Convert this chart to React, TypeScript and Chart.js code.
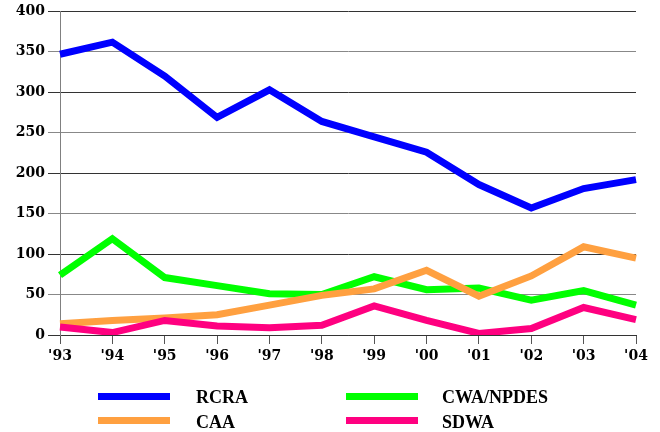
import React, { useEffect, useRef } from "react";
import { Chart, registerables } from "chart.js";

Chart.register(...registerables);

const years = ["'93", "'94", "'95", "'96", "'97", "'98", "'99", "'00", "'01", "'02", "'03", "'04"];
const rcra = [347, 362, 320, 269, 303, 264, 245, 226, 186, 157, 181, 192];
const caa = [14, 18, 21, 25, 37, 49, 57, 80, 48, 73, 109, 95];
const cwa = [74, 119, 71, 61, 51, 50, 72, 56, 58, 43, 55, 37];
const sdwa = [10, 3, 18, 11, 9, 12, 36, 18, 2, 8, 34, 19];

const seriesNames = ["RCRA", "CAA", "CWA/NPDES", "SDWA"];
const seriesColors = ["#0000ff", "#ffa040", "#00ff00", "#ff0080"];
const yTicks = [0, 50, 100, 150, 200, 250, 300, 350, 400];

const tickFont = { family: "'DejaVu Serif', serif", size: 14, weight: "bold" as const };

export default function App() {
  const ref = useRef<HTMLCanvasElement | null>(null);

  useEffect(() => {
    document.body.style.margin = "0";
    const ctx = ref.current!;
    const dataArrays = [rcra, caa, cwa, sdwa];
    const orders = [0, 2, 3, 1];
    const chart = new Chart(ctx, {
      type: "line",
      data: {
        labels: years,
        datasets: dataArrays.map((d, i) => ({
          label: seriesNames[i],
          data: d,
          borderColor: seriesColors[i],
          backgroundColor: seriesColors[i],
          borderWidth: 7,
          pointRadius: 0,
          pointHoverRadius: 0,
          tension: 0,
          fill: false,
          order: orders[i],
        })),
      },
      options: {
        responsive: false,
        animation: false,
        events: [],
        layout: { padding: { top: 11, right: 24, bottom: 67, left: 0 } },
        plugins: { legend: { display: false }, tooltip: { enabled: false } },
        scales: {
          x: {
            offset: false,
            grid: { drawOnChartArea: false, drawTicks: true, tickLength: 9, color: "#555" },
            border: { display: true, color: "#333", width: 1 },
            ticks: { font: tickFont, color: "#000", padding: 4, maxRotation: 0, autoSkip: false },
            afterFit: (s: any) => { s.height = 30; },
          },
          y: {
            min: 0,
            max: 400,
            afterBuildTicks: (s: any) => { s.ticks = yTicks.map((v) => ({ value: v })); },
            grid: {
              tickLength: 12,
              color: (c: any) => (c.tick && c.tick.value % 100 === 0 ? "#333" : "#888"),
            },
            border: { display: true, color: "#808080", width: 1 },
            ticks: { font: tickFont, color: "#000", padding: 3 },
            afterFit: (s: any) => { s.width = 60; },
          },
        },
      },
    });
    return () => chart.destroy();
  }, []);

  const legendFont: React.CSSProperties = {
    position: "absolute",
    fontFamily: "'Liberation Serif', serif",
    fontWeight: "bold",
    fontSize: 18,
    lineHeight: "20px",
    color: "#000",
    whiteSpace: "nowrap",
  };
  const cols = [98, 346];
  const textCols = [196, 442];
  const rows = [393, 417];
  const textRows = [387, 412];
  const layout = [
    { c: 0, r: 0 },
    { c: 0, r: 1 },
    { c: 1, r: 0 },
    { c: 1, r: 1 },
  ];

  return (
    <div style={{ position: "relative", width: 660, height: 432 }}>
      <canvas ref={ref} width={660} height={432} style={{ display: "block" }} />
      {seriesNames.map((n, i) => (
        <React.Fragment key={n}>
          <div
            style={{
              position: "absolute",
              left: cols[layout[i].c],
              top: rows[layout[i].r],
              width: 72,
              height: 7,
              background: seriesColors[i],
            }}
          />
          <div style={{ ...legendFont, left: textCols[layout[i].c], top: textRows[layout[i].r] }}>{n}</div>
        </React.Fragment>
      ))}
    </div>
  );
}
